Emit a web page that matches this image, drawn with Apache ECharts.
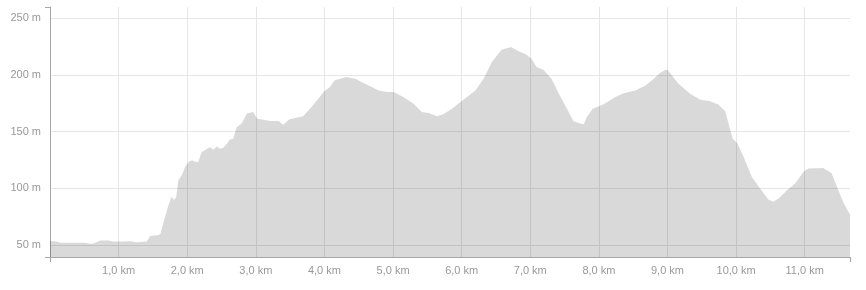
<!DOCTYPE html>
<html>
<head>
<meta charset="utf-8">
<script src="https://cdn.jsdelivr.net/npm/echarts@6/dist/echarts.min.js"></script>
<style>
html,body{margin:0;padding:0;background:#fff;}
#chart{width:866px;height:290px;}
</style>
</head>
<body>
<div id="chart"></div>
<script>
const distanceKm = [0, 0.1, 0.15, 0.3, 0.49, 0.55, 0.58, 0.62, 0.66, 0.73, 0.85, 0.92, 1.05, 1.17, 1.26, 1.41, 1.44, 1.46, 1.58, 1.61, 1.65, 1.72, 1.77, 1.81, 1.84, 1.87, 1.92, 1.97, 2.02, 2.07, 2.12, 2.16, 2.21, 2.27, 2.33, 2.38, 2.43, 2.48, 2.53, 2.58, 2.62, 2.67, 2.72, 2.79, 2.87, 2.96, 3.02, 3.11, 3.21, 3.33, 3.40, 3.49, 3.60, 3.69, 3.77, 3.89, 4.00, 4.08, 4.15, 4.23, 4.32, 4.45, 4.57, 4.69, 4.79, 4.91, 5.01, 5.15, 5.30, 5.42, 5.52, 5.64, 5.73, 5.86, 6.00, 6.20, 6.32, 6.44, 6.58, 6.72, 6.83, 6.94, 7.02, 7.09, 7.19, 7.31, 7.43, 7.56, 7.63, 7.73, 7.78, 7.82, 7.91, 8.07, 8.24, 8.36, 8.53, 8.68, 8.80, 8.89, 8.97, 9.01, 9.16, 9.33, 9.48, 9.62, 9.74, 9.84, 9.89, 9.95, 10.02, 10.11, 10.23, 10.35, 10.47, 10.54, 10.62, 10.74, 10.86, 10.98, 11.05, 11.27, 11.39, 11.47, 11.57, 11.66];
const elevationM = [53.5, 53, 52, 52, 52, 51.5, 51, 51, 52, 54, 54, 53, 53, 53.2, 52.5, 53, 56, 58, 58.8, 60, 69, 84, 92.5, 89.6, 92.5, 107, 111.6, 119, 123.3, 124.8, 123.5, 123.3, 132, 134, 136.5, 134, 137, 135, 136, 139.5, 143, 143.5, 154, 157, 166, 167.3, 161.5, 160.6, 159.4, 159.4, 156.2, 161, 162.4, 163.6, 168.8, 177.6, 185.9, 189.4, 195.3, 196.7, 198.2, 196.7, 192.9, 189.4, 186.4, 185, 185, 180.5, 174.7, 167.3, 166.5, 163.6, 165.3, 170.3, 177, 186.4, 196.7, 211.4, 222.3, 224.6, 221, 218.1, 214.3, 207, 204.7, 196.7, 182, 167.3, 159.2, 157.1, 156.5, 162.4, 170.3, 174.1, 180.5, 184, 186.4, 190.8, 196.7, 201.7, 204.7, 204, 192.3, 183.5, 178.2, 176.8, 173.9, 168.2, 157.1, 143.9, 139.5, 127.7, 110.1, 99.9, 90.2, 88.1, 91.1, 98.4, 104.3, 114.5, 117.5, 118, 113.6, 101.3, 86.7, 77];
const xTickValues = [1, 2, 3, 4, 5, 6, 7, 8, 9, 10, 11];
const yTickValues = [50, 100, 150, 200, 250];
const xRange = [0, 11.66];
const yRange = [39.4, 260];

const points = distanceKm.map((d, i) => [d, elevationM[i]]);
const axisColor = '#a6a6a6';
const labelColor = '#999999';
const gridColor = '#e6e6e6';
const font = 'Liberation Sans, Arial, sans-serif';

const chart = echarts.init(document.getElementById('chart'), null, {renderer: 'canvas'});
chart.setOption({
  animation: false,
  grid: {left: 50, right: 16, top: 7, bottom: 33, containLabel: false},
  xAxis: [
    {
      type: 'value', min: xRange[0], max: xRange[1], position: 'bottom',
      axisLine: {show: true, lineStyle: {color: axisColor, width: 1}},
      axisTick: {show: true, length: 5, customValues: xRange, lineStyle: {color: axisColor}},
      axisLabel: {
        show: true, customValues: xTickValues, color: labelColor, fontSize: 11,
        fontFamily: font, margin: 8,
        formatter: v => v.toFixed(1).replace('.', ',') + ' km'
      },
      splitLine: {show: false}
    },
    {
      type: 'value', min: xRange[0], max: xRange[1], position: 'top',
      axisLine: {show: false},
      axisTick: {show: false, customValues: xTickValues},
      axisLabel: {show: false},
      splitLine: {show: true, lineStyle: {color: gridColor, width: 1}}
    }
  ],
  yAxis: [
    {
      type: 'value', min: yRange[0], max: yRange[1], position: 'left',
      axisLine: {show: true, lineStyle: {color: axisColor, width: 1}},
      axisTick: {show: true, length: 5, customValues: yRange, lineStyle: {color: axisColor}},
      axisLabel: {
        show: true, customValues: yTickValues, color: labelColor, fontSize: 11,
        fontFamily: font, margin: 9,
        formatter: v => v + ' m'
      },
      splitLine: {show: false}
    },
    {
      type: 'value', min: yRange[0], max: yRange[1], position: 'right',
      axisLine: {show: false},
      axisTick: {show: false, customValues: yTickValues},
      axisLabel: {show: false},
      splitLine: {show: true, lineStyle: {color: gridColor, width: 1}}
    }
  ],
  series: [{
    type: 'line',
    xAxisIndex: 0, yAxisIndex: 0,
    data: points,
    showSymbol: false,
    smooth: false,
    lineStyle: {width: 0, color: 'rgba(0,0,0,0)'},
    areaStyle: {color: 'rgba(0,0,0,0.15)', opacity: 1, origin: 'start'},
    z: 1
  }]
});
</script>
</body>
</html>
